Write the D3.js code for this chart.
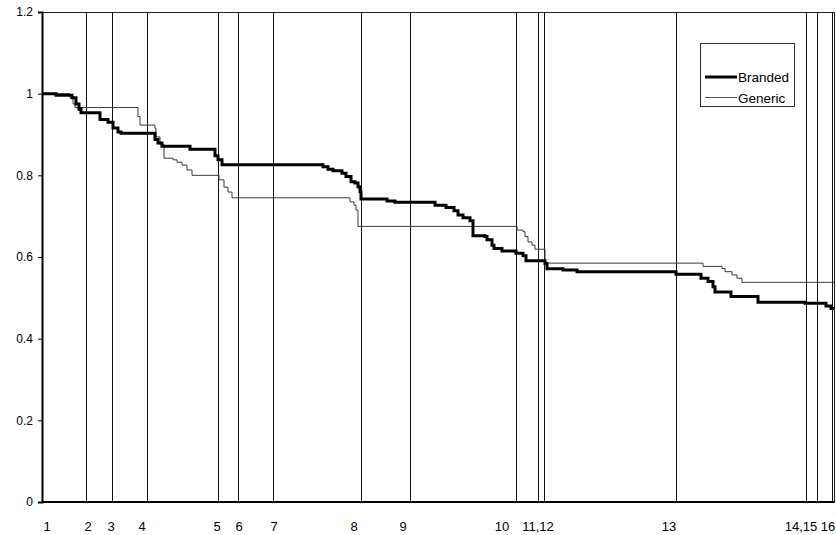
<!DOCTYPE html>
<html>
<head>
<meta charset="utf-8">
<script src="https://cdn.jsdelivr.net/npm/d3@7"></script>
<style>
  html, body { margin: 0; padding: 0; background: #fff; }
  svg { display: block; font-family: "Liberation Sans", Arial, Helvetica, sans-serif; }
</style>
</head>
<body>
<svg id="chart" width="836" height="535"></svg>
<script>
// Survival-type step curves over follow-up time (arbitrary time units, 0..792)
const brandedT = [0, 14, 30, 34, 37, 39, 58, 66, 71, 76, 79, 113, 116, 120, 148, 173, 176, 180,
  281, 286, 291, 300, 304, 309, 313, 316, 318, 319, 345, 353, 393, 404, 412, 416, 421, 428, 431,
  443, 445, 450, 452, 460, 474, 481, 484, 503, 505, 521, 535, 634, 659, 666, 671, 673, 689, 716,
  763, 784, 789, 792];
const brandedS = [1.000, 0.996, 0.990, 0.975, 0.962, 0.953, 0.937, 0.930, 0.916, 0.906, 0.903, 0.888,
  0.879, 0.871, 0.864, 0.848, 0.838, 0.826, 0.821, 0.815, 0.811, 0.805, 0.797, 0.784, 0.781, 0.772,
  0.760, 0.742, 0.737, 0.734, 0.727, 0.721, 0.713, 0.703, 0.696, 0.689, 0.652, 0.650, 0.642, 0.629,
  0.621, 0.615, 0.609, 0.603, 0.591, 0.584, 0.571, 0.568, 0.564, 0.558, 0.548, 0.540, 0.527, 0.514,
  0.503, 0.489, 0.487, 0.480, 0.474, 0.474];

const genericT = [0, 28, 31, 33, 96, 98, 113, 114, 118, 122, 131, 135, 140, 145, 150, 177, 182, 186,
  190, 308, 312, 314, 316, 475, 481, 483, 486, 490, 493, 503, 661, 680, 683, 690, 695, 700, 792];
const genericS = [1.000, 0.990, 0.975, 0.966, 0.944, 0.923, 0.915, 0.894, 0.875, 0.842, 0.838, 0.832,
  0.825, 0.813, 0.800, 0.789, 0.771, 0.759, 0.745, 0.735, 0.727, 0.715, 0.675, 0.666, 0.662, 0.650,
  0.637, 0.629, 0.619, 0.585, 0.577, 0.572, 0.564, 0.556, 0.548, 0.538, 0.538];

// Numbered events marked with vertical rules
const eventT = [0, 43.5, 69.5, 105, 176, 195.5, 230.5, 318.5, 368, 473.5, 496, 501.5, 633.5, 764, 775, 790];
const eventLabels = ["1", "2", "3", "4", "5", "6", "7", "8", "9", "10", "11,12", "13", "14,15", "16"];
const eventLabelT = [5, 46, 69, 100, 175, 197, 232, 312, 361, 460, 496, 627, 759, 786];

const yTicks = [0, 0.2, 0.4, 0.6, 0.8, 1, 1.2];
const seriesNames = ["Branded", "Generic"];

const svg = d3.select("#chart");
const x = d3.scaleLinear().domain([0, 792]).range([42, 834]);
const y = d3.scaleLinear().domain([0, 1.2]).range([502, 12]);

// plot frame
svg.append("rect")
  .attr("x", x(0)).attr("y", y(1.2))
  .attr("width", x(792) - x(0)).attr("height", y(0) - y(1.2))
  .attr("fill", "none").attr("stroke", "#222").attr("stroke-width", 1)
  .attr("shape-rendering", "crispEdges");

// event rules
svg.append("g").selectAll("line").data(eventT).join("line")
  .attr("x1", d => Math.round(x(d)) + 0.5).attr("x2", d => Math.round(x(d)) + 0.5)
  .attr("y1", y(1.2)).attr("y2", y(0))
  .attr("stroke", "#111").attr("stroke-width", 1);

// event labels
svg.append("g").selectAll("text").data(eventLabels).join("text")
  .attr("x", (d, i) => x(eventLabelT[i]))
  .attr("y", 531)
  .attr("text-anchor", "middle")
  .attr("font-size", 13)
  .attr("fill", "#000")
  .text(d => d);

// y axis
const yAxis = d3.axisLeft(y).tickValues(yTicks).tickFormat(d3.format("~g")).tickSize(4).tickPadding(5);
const gy = svg.append("g").attr("transform", `translate(${x(0)},0)`).call(yAxis);
gy.select(".domain").attr("stroke", "#000").attr("stroke-width", 2);
gy.selectAll(".tick line").attr("stroke", "#000");
gy.selectAll(".tick text").attr("font-size", 12).attr("fill", "#000")
  .attr("font-family", "'Liberation Sans', Arial, sans-serif");

// x axis baseline
svg.append("line")
  .attr("x1", x(0)).attr("x2", x(792))
  .attr("y1", y(0)).attr("y2", y(0))
  .attr("stroke", "#000").attr("stroke-width", 2);

// step curves
const step = d3.line().x(d => x(d[0])).y(d => y(d[1])).curve(d3.curveStepAfter);
const genericPts = genericT.map((t, i) => [t, genericS[i]]);
const brandedPts = brandedT.map((t, i) => [t, brandedS[i]]);

svg.append("path").attr("d", step(genericPts))
  .attr("fill", "none").attr("stroke", "#3a3a3a").attr("stroke-width", 1);
svg.append("path").attr("d", step(brandedPts))
  .attr("fill", "none").attr("stroke", "#000").attr("stroke-width", 3)
  .attr("stroke-linejoin", "miter");

// legend
const lg = svg.append("g");
lg.append("rect")
  .attr("x", 700.5).attr("y", 43.5).attr("width", 94).attr("height", 63)
  .attr("fill", "#fff").attr("stroke", "#333").attr("stroke-width", 1);
const legendStyle = [{w: 3, c: "#000"}, {w: 1, c: "#555"}];
seriesNames.forEach((name, i) => {
  const cy = 77 + i * 20.5;
  lg.append("line").attr("x1", 705).attr("x2", 737).attr("y1", cy).attr("y2", cy)
    .attr("stroke", legendStyle[i].c).attr("stroke-width", legendStyle[i].w);
  lg.append("text").attr("x", 738).attr("y", cy + 5)
    .attr("font-size", 13.5).attr("fill", "#000").text(name);
});
</script>
</body>
</html>
